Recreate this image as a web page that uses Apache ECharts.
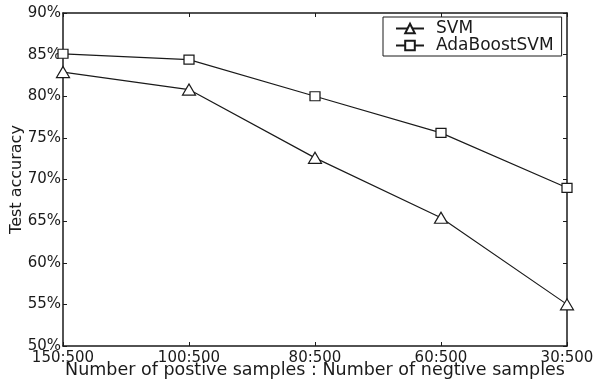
<!DOCTYPE html>
<html>
<head>
<meta charset="utf-8">
<script src="https://cdn.jsdelivr.net/npm/echarts@6/dist/echarts.min.js"></script>
<style>html,body{margin:0;padding:0;background:#fff;}#c{width:595px;height:382px;}</style>
</head>
<body>
<div id="c"></div>
<script>
const categories = ['150:500', '100:500', '80:500', '60:500', '30:500'];
const svmValues = [82.9, 80.8, 72.6, 65.4, 55.0];
const adaValues = [85.1, 84.4, 80.0, 75.6, 69.0];
const yMin = 50, yMax = 90, yStep = 5;

const FONT = 'DejaVu Sans';
const INK = '#1a1a1a';
const chart = echarts.init(document.getElementById('c'), null, {renderer: 'canvas'});
const tickStyle = {show: true, inside: true, length: 4, lineStyle: {color: INK, width: 1}};
const lineStyleAxis = {show: true, lineStyle: {color: INK, width: 1.5}};
chart.setOption({
  animation: false,
  backgroundColor: '#fff',
  grid: {left: 63, right: 28, top: 13, bottom: 36, containLabel: false, outerBoundsMode: 'none'},
  legend: {
    orient: 'vertical', left: 383, top: 17, width: 180,
    backgroundColor: '#fff', borderColor: INK, borderWidth: 1,
    padding: [3, 8, 2, 12], itemGap: 0, itemWidth: 28, itemHeight: 12,
    textStyle: {fontFamily: FONT, fontSize: 17, color: INK, padding: [0, 0, 0, 7]},
    data: ['SVM', 'AdaBoostSVM']
  },
  xAxis: [{
    type: 'category', data: categories, boundaryGap: false,
    axisLine: lineStyleAxis, axisTick: tickStyle,
    axisLabel: {fontFamily: FONT, fontSize: 15, color: INK, margin: 5},
    name: 'Number of postive samples : Number of negtive samples',
    nameLocation: 'middle', nameGap: 15, nameMoveOverlap: false,
    nameTextStyle: {fontFamily: FONT, fontSize: 17.5, color: INK},
    splitLine: {show: false}
  }, {
    type: 'category', data: categories, boundaryGap: false, position: 'top',
    axisLine: lineStyleAxis, axisTick: tickStyle, axisLabel: {show: false}, splitLine: {show: false}
  }],
  yAxis: [{
    type: 'value', min: yMin, max: yMax, interval: yStep,
    axisLine: lineStyleAxis, axisTick: tickStyle,
    axisLabel: {fontFamily: FONT, fontSize: 15, color: INK, margin: 2, formatter: '{value}%'},
    name: 'Test accuracy', nameLocation: 'middle', nameGap: 38, nameMoveOverlap: false,
    nameTextStyle: {fontFamily: FONT, fontSize: 16, color: INK},
    splitLine: {show: false}
  }, {
    type: 'value', min: yMin, max: yMax, interval: yStep, position: 'right',
    axisLine: lineStyleAxis, axisTick: tickStyle, axisLabel: {show: false}, splitLine: {show: false}
  }],
  series: [{
    name: 'SVM', type: 'line', data: svmValues,
    symbol: 'triangle', symbolSize: [13, 11], showAllSymbol: true,
    lineStyle: {color: INK, width: 1.2},
    itemStyle: {color: '#fff', borderColor: INK, borderWidth: 1.2}
  }, {
    name: 'AdaBoostSVM', type: 'line', data: adaValues,
    symbol: 'rect', symbolSize: [10, 9], showAllSymbol: true,
    lineStyle: {color: INK, width: 1.2},
    itemStyle: {color: '#fff', borderColor: INK, borderWidth: 1.2}
  }]
});
</script>
</body>
</html>
